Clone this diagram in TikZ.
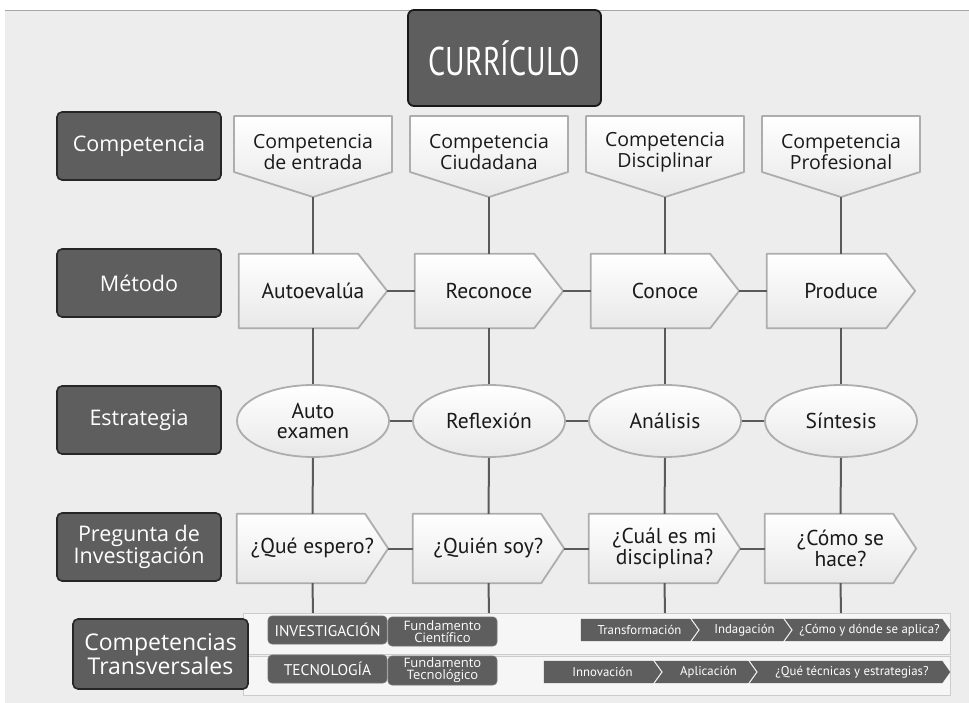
\documentclass[tikz,border=0pt]{standalone}
\usepackage{fontspec}
\setmainfont{Open Sans}
\newfontfamily\condf{PT Sans}
\newfontfamily\tallf[FakeStretch=0.75]{PT Sans}
\usetikzlibrary{shapes.geometric,backgrounds}
\definecolor{bgc}{HTML}{EDEDED}
\definecolor{darkbox}{HTML}{5E5E5E}
\definecolor{lineC}{HTML}{5A5A5A}
\definecolor{shapeEdge}{HTML}{ADADAD}
\definecolor{bandC}{HTML}{F6F6F6}
\definecolor{txt}{HTML}{1A1A1A}
\begin{document}
\begin{tikzpicture}[x=1pt,y=-1pt,
  labelbox/.style={draw=black!85, line width=1.6pt, fill=darkbox, rounded corners=5pt, text=white,
    minimum width=164pt, minimum height=68pt, inner sep=0pt, align=center,
    font=\fontsize{21.5}{22}\selectfont},
  currbox/.style={draw=black!90, line width=1.8pt, fill=darkbox, rounded corners=6pt, text=white,
    minimum width=193pt, minimum height=96pt, inner sep=0pt, font=\tallf\fontsize{40}{40}\selectfont},
  shieldtext/.style={inner sep=0pt, align=center, text=txt, font=\fontsize{19.5}{18}\selectfont},
  softshape/.style={draw=shapeEdge, line width=1.8pt, top color=white, bottom color=black!9, line join=round},
  methodnode/.style={minimum width=148pt, minimum height=74pt, inner sep=0pt, align=center, text=txt,
    font=\condf\fontsize{21.5}{20}\selectfont},
  qnode/.style={minimum width=151pt, minimum height=69pt, inner sep=0pt, align=center, text=txt,
    font=\condf\fontsize{21.5}{19}\selectfont},
  ellnode/.style={ellipse, softshape, minimum width=152pt, minimum height=72pt, inner sep=0pt, align=center,
    text=txt, font=\condf\fontsize{21.5}{19.5}\selectfont},
  conn/.style={draw=lineC, line width=2pt},
  band/.style={fill=bandC, draw=black!20, line width=1pt},
  smallbox/.style={fill=darkbox, draw=black!55, line width=0.6pt, rounded corners=4pt, text=white,
    inner sep=0pt, align=center},
  chevtext/.style={minimum height=22pt, inner sep=0pt, text=white, font=\condf\fontsize{12.8}{12.8}\selectfont},
  chevfill/.style={fill=darkbox}
]
\useasboundingbox (0,0) rectangle (969,703);
\begin{scope}[on background layer]
  \fill[white] (0,0) rectangle (969,703);
  \fill[bgc] (5,11) rectangle (969,703);
  \draw[black!35, line width=1pt] (5,11) -- (969,11);
  \path[band] (243,613) rectangle (950,654);
  \path[band] (243,656) rectangle (950,695);
\end{scope}

% title and row labels
\node[currbox] (cur) at (504.5,58) {CURRÍCULO};
\node[labelbox] (lc) at (139,146) {Competencia};
\node[labelbox] (lm) at (139,283) {Método};
\node[labelbox] (le) at (139,420) {Estrategia};
\node[labelbox] (lp) at (139,547) {Pregunta de\\Investigación};
\node[labelbox, minimum width=175pt, minimum height=70pt, font=\fontsize{23}{21}\selectfont] (lt) at (160.5,654) {Competencias\\Transversales};

% competence shields
\foreach \x/\n/\t in {313/1/{Competencia\\de entrada}, 489/2/{Competencia\\Ciudadana}, 665/3/{Competencia\\Disciplinar}, 841/4/{Competencia\\Profesional}}{
  \path[softshape] (\x-79,116) -- (\x+79,116) -- (\x+79,172) -- (\x,197) -- (\x-79,172) -- cycle;
  \node[shieldtext] (c\n) at (\x,152) {\t};
  \coordinate (ct\n) at (\x,197);
}

% method
\node[methodnode] (m1) at (313,291) {Autoevalúa};
\node[methodnode] (m2) at (489,291) {Reconoce};
\node[methodnode] (m3) at (665,291) {Conoce};
\node[methodnode] (m4) at (841,291) {Produce};

% strategy
\node[ellnode] (e1) at (313,421) {Auto\\examen};
\node[ellnode] (e2) at (489,421) {Reflexión};
\node[ellnode] (e3) at (665,421) {Análisis};
\node[ellnode] (e4) at (841,421) {Síntesis};

% questions
\node[qnode] (q1) at (312.5,548.5) {¿Qué espero?};
\node[qnode] (q2) at (488.5,548.5) {¿Quién soy?};
\node[qnode] (q3) at (664.5,548.5) {¿Cuál es mi\\disciplina?};
\node[qnode] (q4) at (840.5,548.5) {¿Cómo se\\hace?};

\begin{scope}[on background layer]
  \foreach \n in {1,...,4}{
    \path[softshape] (m\n.north west) -- ([xshift=-29pt]m\n.north east) -- (m\n.east)
      -- ([xshift=-29pt]m\n.south east) -- (m\n.south west) -- cycle;
    \path[softshape] (q\n.north west) -- ([xshift=-23pt]q\n.north east) -- (q\n.east)
      -- ([xshift=-23pt]q\n.south east) -- (q\n.south west) -- cycle;
  }
\end{scope}

% band end points
\coordinate (b1) at (313,613);
\coordinate (b2) at (489,613);
\coordinate (b3) at (665,613);
\coordinate (b4) at (841,613);

% connectors
\foreach \n in {1,...,4}{
  \draw[conn] (ct\n) -- (m\n.north);
  \draw[conn] (m\n.south) -- (e\n.north);
  \draw[conn] (e\n.south) -- (q\n.north);
  \draw[conn] (q\n.south) -- (b\n);
}
\foreach \a/\b in {1/2,2/3,3/4}{
  \draw[conn] (m\a.east) -- (m\b.west);
  \draw[conn] (e\a.east) -- (e\b.west);
  \draw[conn] (q\a.east) -- (q\b.west);
}

% transversal competences
\node[smallbox, minimum width=119pt, minimum height=28pt, font=\condf\fontsize{15.5}{15.5}\selectfont] (inv) at (327.5,630) {INVESTIGACIÓN};
\node[smallbox, minimum width=109pt, minimum height=29pt, font=\fontsize{13}{12}\selectfont] (fc) at (442.5,631.5) {Fundamento\\Científico};
\node[smallbox, minimum width=119pt, minimum height=28pt, font=\condf\fontsize{15.5}{15.5}\selectfont] (tec) at (327.5,669) {TECNOLOGÍA};
\node[smallbox, minimum width=109pt, minimum height=29pt, font=\fontsize{13}{12}\selectfont] (ft) at (442.5,670.5) {Fundamento\\Tecnológico};

\node[chevtext, minimum width=117pt] (t1) at (639.5,630) {Transformación};
\node[chevtext, minimum width=99pt] (t2) at (741.5,630) {\hspace*{6pt}Indagación};
\node[chevtext, minimum width=165pt] (t3) at (867.5,630) {\hspace*{4pt}¿Cómo y dónde se aplica?};
\node[chevtext, minimum width=117pt] (r1) at (602.5,672) {Innovación};
\node[chevtext, minimum width=101pt] (r2) at (705.5,672) {\hspace*{6pt}Aplicación};
\node[chevtext, minimum width=200pt] (r3) at (850,672) {\hspace*{4pt}¿Qué técnicas y estrategias?};

\begin{scope}[on background layer]
  \foreach \n in {t1,r1}{
    \path[chevfill] (\n.north west) -- ([xshift=-8pt]\n.north east) -- (\n.east)
      -- ([xshift=-8pt]\n.south east) -- (\n.south west) -- cycle;
  }
  \foreach \n in {t2,t3,r2,r3}{
    \path[chevfill] (\n.north west) -- ([xshift=-8pt]\n.north east) -- (\n.east)
      -- ([xshift=-8pt]\n.south east) -- (\n.south west) -- ([xshift=8pt]\n.west) -- cycle;
  }
\end{scope}
\end{tikzpicture}
\end{document}
